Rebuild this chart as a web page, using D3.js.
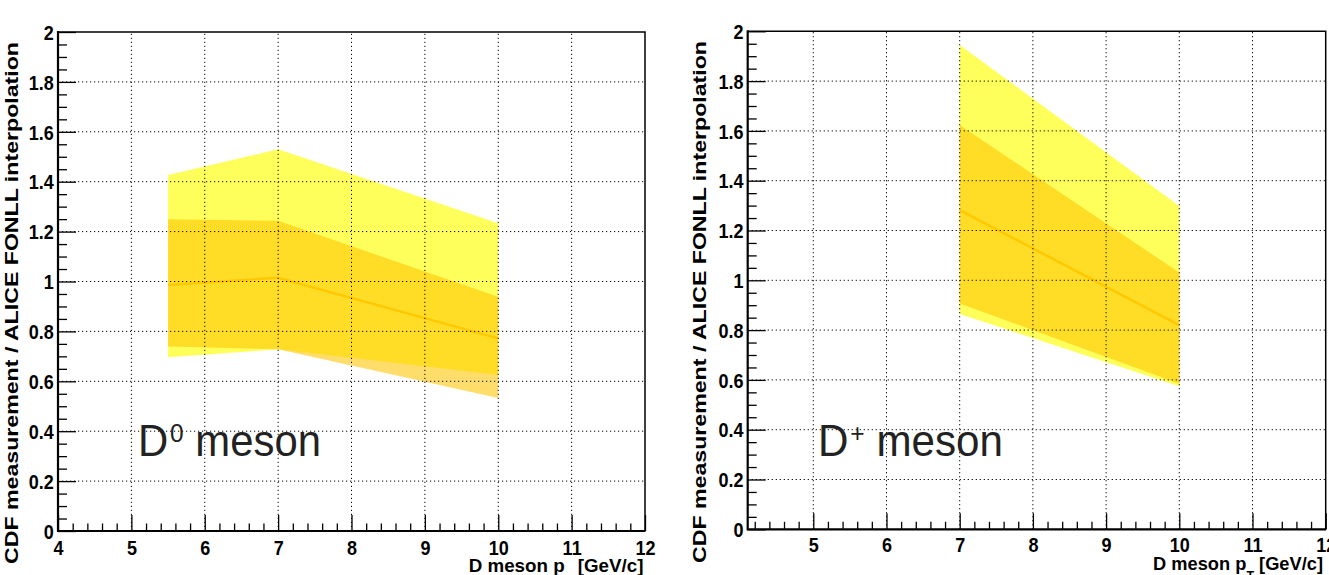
<!DOCTYPE html>
<html>
<head>
<meta charset="utf-8">
<script src="https://cdn.jsdelivr.net/npm/d3@7"></script>
<style>
  html, body { margin: 0; padding: 0; background: #fff; }
  svg { display: block; }
</style>
</head>
<body>
<svg id="chart" width="1329" height="575"></svg>
<script>
// ---------------- data ----------------
const d0X          = [5.5, 7, 10];
const d0Central    = [0.986, 1.015, 0.772];
const d0TheoryHi   = [1.427, 1.530, 1.233];
const d0TheoryLo   = [0.696, 0.728, 0.625];
const d0DataHi     = [1.249, 1.243, 0.939];
const d0DataLo     = [0.739, 0.728, 0.533];

const dpX          = [7, 10];
const dpCentral    = [1.282, 0.820];
const dpTheoryHi   = [1.945, 1.298];
const dpTheoryLo   = [0.865, 0.575];
const dpDataHi     = [1.624, 1.031];
const dpDataLo     = [0.907, 0.585];

const yTickValues  = [0, 0.2, 0.4, 0.6, 0.8, 1, 1.2, 1.4, 1.6, 1.8, 2];
const yTickLabels  = ["0", "0.2", "0.4", "0.6", "0.8", "1", "1.2", "1.4", "1.6", "1.8", "2"];
const xTickLeft    = [4, 5, 6, 7, 8, 9, 10, 11, 12];
const xTickRight   = [5, 6, 7, 8, 9, 10, 11, 12];

const yTitle = "CDF measurement / ALICE FONLL interpolation";
const xTitleMain = "D meson p";
const xTitleSub = "T";
const xTitleUnit = " [GeV/c]";

// ---------------- layout ----------------
const svg = d3.select("#chart");
const FONT = "'Liberation Sans', Arial, Helvetica, sans-serif";

const panels = [
  { x0: 58, x1: 645, y0: 531, y1: 32, xdom: [4, 12], xTicks: xTickLeft, minorStart: 4,
    x: d0X, c: d0Central, tHi: d0TheoryHi, tLo: d0TheoryLo, dHi: d0DataHi, dLo: d0DataLo,
    label: ["D", "0", " meson"], labelX: 138, labelY: 456, labelW: 183,
    yTitleX: 17.5, yTitleY: 564, xLabPad: 10, xTitleEnd: 643.5, xTitleY: 572, xTitleW: 175, subDy: 12 },
  { x0: 747.7, x1: 1325.7, y0: 529.3, y1: 31.3, xdom: [4.104, 12], xTicks: xTickRight, minorStart: 4.2,
    x: dpX, c: dpCentral, tHi: dpTheoryHi, tLo: dpTheoryLo, dHi: dpDataHi, dLo: dpDataLo,
    label: ["D", "+", " meson"], labelX: 818, labelY: 456, labelW: 185,
    yTitleX: 705.5, yTitleY: 563, xLabPad: 8.5, xTitleEnd: 1323, xTitleY: 570, xTitleW: 170, subDy: 10 }
];

panels.forEach(p => {
  const g = svg.append("g");
  const xs = d3.scaleLinear().domain(p.xdom).range([p.x0, p.x1]);
  const ys = d3.scaleLinear().domain([0, 2]).range([p.y0, p.y1]);

  const idx = d3.range(p.x.length);
  const area = (hi, lo) => d3.area().x(i => xs(p.x[i])).y0(i => ys(lo[i])).y1(i => ys(hi[i]))(idx);

  // theory band (yellow)
  g.append("path").attr("d", area(p.tHi, p.tLo))
    .attr("fill", "#ffff00").attr("fill-opacity", 0.64);
  // data band (gold)
  g.append("path").attr("d", area(p.dHi, p.dLo))
    .attr("fill", "#ffc400").attr("fill-opacity", 0.58);
  // central line
  g.append("path")
    .attr("d", d3.line().x(i => xs(p.x[i])).y(i => ys(p.c[i]))(idx))
    .attr("fill", "none").attr("stroke", "#ffc800").attr("stroke-width", 2.5);

  // grid
  const gx = p.xTicks.filter(v => v > p.xdom[0] && v < p.xdom[1]);
  g.append("g").selectAll("line").data(gx).join("line")
    .attr("x1", d => xs(d)).attr("x2", d => xs(d))
    .attr("y1", p.y0).attr("y2", p.y1)
    .attr("stroke", "#000").attr("stroke-width", 1).attr("stroke-dasharray", "1.2,2.8");
  const gy = yTickValues.filter(v => v > 0 && v < 2);
  g.append("g").selectAll("line").data(gy).join("line")
    .attr("y1", d => ys(d)).attr("y2", d => ys(d))
    .attr("x1", p.x0).attr("x2", p.x1)
    .attr("stroke", "#000").attr("stroke-width", 1).attr("stroke-dasharray", "1.2,2.8");

  // minor ticks
  const minorX = d3.range(Math.round((12 - p.minorStart) / 0.2) + 1)
    .map(i => +(p.minorStart + i * 0.2).toFixed(2))
    .filter(v => Math.abs(v - Math.round(v)) > 1e-6);
  g.append("g").attr("transform", `translate(0,${p.y0})`)
    .call(d3.axisBottom(xs).tickValues(minorX).tickSize(-7.5).tickFormat(""))
    .call(s => s.select(".domain").remove())
    .selectAll("line").attr("stroke", "#000").attr("stroke-width", 1.3);
  const minorY = d3.range(41).map(i => +(i * 0.05).toFixed(2))
    .filter(v => Math.abs(v * 5 - Math.round(v * 5)) > 1e-6);
  g.append("g").attr("transform", `translate(${p.x0},0)`)
    .call(d3.axisLeft(ys).tickValues(minorY).tickSize(-9).tickFormat(""))
    .call(s => s.select(".domain").remove())
    .selectAll("line").attr("stroke", "#000").attr("stroke-width", 1.3);

  // major x axis
  const ax = g.append("g").attr("transform", `translate(0,${p.y0})`)
    .call(d3.axisBottom(xs).tickValues(p.xTicks).tickSize(-16).tickPadding(p.xLabPad).tickFormat(d3.format("d")));
  ax.select(".domain").remove();
  ax.selectAll("line").attr("stroke", "#000").attr("stroke-width", 1.3);
  ax.selectAll("text").attr("font-family", FONT).attr("font-weight", "bold")
    .attr("font-size", 20).attr("fill", "#000").attr("transform", "scale(0.9,1)");

  // major y axis
  const ay = g.append("g").attr("transform", `translate(${p.x0},0)`)
    .call(d3.axisLeft(ys).tickValues(yTickValues).tickSize(-18).tickPadding(4.6)
      .tickFormat((d, i) => yTickLabels[i]));
  ay.select(".domain").remove();
  ay.selectAll("line").attr("stroke", "#000").attr("stroke-width", 1.3);
  ay.selectAll("text").attr("font-family", FONT).attr("font-weight", "bold")
    .attr("font-size", 20).attr("fill", "#000").attr("dy", "0.36em")
    .attr("transform", "scale(0.9,1)");

  // frame
  g.append("path")
    .attr("d", `M${p.x0},${p.y1}H${p.x1}V${p.y0}`)
    .attr("fill", "none").attr("stroke", "#000").attr("stroke-width", 1.5);
  g.append("path")
    .attr("d", `M${p.x0},${p.y1 - 1}V${p.y0}H${p.x1 + 0.5}`)
    .attr("fill", "none").attr("stroke", "#000").attr("stroke-width", 2.2);

  // y title
  g.append("text")
    .attr("transform", `translate(${p.yTitleX},${p.yTitleY}) rotate(-90)`)
    .attr("font-family", FONT).attr("font-weight", "bold").attr("font-size", 19)
    .attr("textLength", 522).attr("lengthAdjust", "spacingAndGlyphs")
    .attr("fill", "#000").text(yTitle);

  // x title
  const xt = g.append("text")
    .attr("x", p.xTitleEnd).attr("y", p.xTitleY).attr("text-anchor", "end")
    .attr("font-family", FONT).attr("font-weight", "bold").attr("font-size", 19).attr("fill", "#000");
  xt.append("tspan").text(xTitleMain);
  xt.append("tspan").attr("font-size", 13).attr("dy", p.subDy).text(xTitleSub);
  xt.append("tspan").attr("dy", -p.subDy).text(xTitleUnit);
  const xw = xt.node().getBBox().width;
  const kx = p.xTitleW / xw;
  xt.attr("transform", `translate(${p.xTitleEnd},0) scale(${kx},1) translate(${-p.xTitleEnd},0)`);

  // meson label
  const lt = g.append("text")
    .attr("x", p.labelX).attr("y", p.labelY)
    .attr("font-family", FONT).attr("font-size", 44.5).attr("fill", "#222");
  lt.append("tspan").text(p.label[0]);
  lt.append("tspan").attr("font-size", 26).attr("dy", -14).attr("dx", 2).text(p.label[1]);
  lt.append("tspan").attr("dy", 14).text(p.label[2]);
  const lw = lt.node().getBBox().width;
  const kl = p.labelW / lw;
  lt.attr("transform", `translate(${p.labelX},0) scale(${kl},1) translate(${-p.labelX},0)`);
});
</script>
</body>
</html>
